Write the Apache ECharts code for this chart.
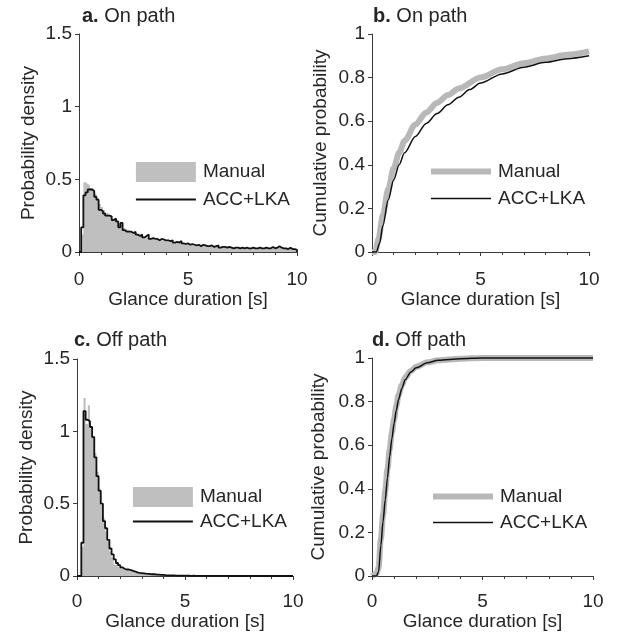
<!DOCTYPE html>
<html>
<head>
<meta charset="utf-8">
<script src="https://cdn.jsdelivr.net/npm/echarts@6/dist/echarts.min.js"></script>
<style>
html,body{margin:0;padding:0;background:#fff;}
#chart{width:623px;height:636px;}
</style>
</head>
<body>
<div id="chart"></div>
<script>
// ---------- DATA ----------
// Histogram bins: width 0.1 s, starting at 0 s (100 bins up to 10 s)
const BIN_START = 0;
const BIN_WIDTH = 0.1;

// a. On path – probability density
const onPathManual = [
  0, 0.12, 0.48, 0.47, 0.46, 0.44, 0.43, 0.40, 0.37, 0.33,
  0.31, 0.29, 0.27, 0.26, 0.245, 0.23, 0.22, 0.20, 0.19, 0.18,
  0.165, 0.155, 0.15, 0.14, 0.135, 0.13, 0.12, 0.115, 0.11, 0.105,
  0.10, 0.10, 0.095, 0.09, 0.085, 0.085, 0.08, 0.08, 0.075, 0.075,
  0.07, 0.07, 0.065, 0.065, 0.06, 0.065, 0.06, 0.055, 0.055, 0.05,
  0.05, 0.05, 0.045, 0.045, 0.045, 0.04, 0.045, 0.04, 0.04, 0.04,
  0.035, 0.035, 0.04, 0.035, 0.03, 0.035, 0.03, 0.03, 0.03, 0.03,
  0.025, 0.03, 0.025, 0.025, 0.03, 0.025, 0.025, 0.025, 0.025, 0.025,
  0.025, 0.02, 0.025, 0.025, 0.02, 0.025, 0.02, 0.025, 0.025, 0.02,
  0.025, 0.03, 0.025, 0.02, 0.02, 0.02, 0.025, 0.02, 0.02, 0.015
];
const onPathAcc = [
  0, 0.17, 0.39, 0.41, 0.43, 0.43, 0.42, 0.38, 0.36, 0.29,
  0.28, 0.265, 0.25, 0.25, 0.245, 0.22, 0.23, 0.21, 0.17, 0.20,
  0.15, 0.14, 0.14, 0.14, 0.13, 0.14, 0.12, 0.11, 0.12, 0.10,
  0.11, 0.12, 0.09, 0.095, 0.09, 0.09, 0.08, 0.09, 0.085, 0.08,
  0.08, 0.075, 0.08, 0.065, 0.07, 0.065, 0.075, 0.06, 0.055, 0.06,
  0.05, 0.055, 0.05, 0.045, 0.05, 0.04, 0.05, 0.045, 0.04, 0.04,
  0.045, 0.035, 0.04, 0.045, 0.03, 0.035, 0.035, 0.03, 0.035, 0.03,
  0.025, 0.03, 0.03, 0.025, 0.03, 0.025, 0.03, 0.025, 0.025, 0.03,
  0.025, 0.025, 0.03, 0.025, 0.025, 0.03, 0.025, 0.025, 0.035, 0.025,
  0.03, 0.04, 0.03, 0.025, 0.025, 0.02, 0.03, 0.02, 0.02, 0.015
];

// c. Off path – probability density
const offPathManual = [
  0, 0, 0.20, 1.23, 1.05, 1.18, 1.02, 0.97, 0.85, 0.72,
  0.60, 0.49, 0.40, 0.31, 0.24, 0.17, 0.13, 0.08, 0.08, 0.06,
  0.05, 0.045, 0.04, 0.04, 0.035, 0.03, 0.025, 0.022, 0.02, 0.018,
  0.016, 0.014, 0.013, 0.012, 0.01, 0.01, 0.009, 0.008, 0.007, 0.006,
  0.005, 0.005, 0.004, 0.004, 0.003, 0.003, 0.003, 0.002, 0.002, 0.002,
  0.002, 0.001, 0.001, 0.001, 0.001, 0.001, 0.001, 0.001, 0.001, 0.001,
  0.001, 0.001, 0.001, 0.001, 0.001, 0, 0.001, 0, 0.001, 0,
  0, 0, 0.001, 0, 0, 0, 0, 0.001, 0, 0,
  0, 0, 0, 0, 0, 0, 0, 0, 0, 0,
  0, 0, 0, 0, 0, 0, 0, 0, 0, 0
];
const offPathAcc = [
  0, 0, 0.23, 1.14, 1.08, 1.07, 1.03, 0.96, 0.82, 0.69,
  0.59, 0.50, 0.38, 0.33, 0.25, 0.19, 0.15, 0.115, 0.09, 0.075,
  0.06, 0.05, 0.045, 0.045, 0.04, 0.035, 0.03, 0.025, 0.022, 0.02,
  0.018, 0.016, 0.015, 0.013, 0.012, 0.012, 0.01, 0.009, 0.008, 0.008,
  0.006, 0.005, 0.005, 0.004, 0.004, 0.003, 0.003, 0.003, 0.002, 0.002,
  0.002, 0.002, 0.001, 0.002, 0.001, 0.001, 0.001, 0.001, 0.001, 0.001,
  0.001, 0.001, 0.001, 0.001, 0.001, 0.001, 0.001, 0.001, 0.001, 0,
  0.001, 0, 0, 0.001, 0, 0, 0, 0, 0.001, 0,
  0, 0, 0, 0, 0, 0, 0, 0, 0, 0,
  0, 0, 0, 0, 0, 0, 0, 0, 0, 0
];

// b. On path – cumulative probability
const onCdfManualT = [0, 0.15, 0.3, 0.5, 0.75, 1.0, 1.25, 1.5, 2.0, 2.5, 3.0, 3.5, 4.0, 5.0, 6.0, 7.0, 8.0, 9.0, 10];
const onCdfManualP = [0, 0, 0.06, 0.17, 0.29, 0.385, 0.455, 0.51, 0.585, 0.64, 0.685, 0.72, 0.75, 0.80, 0.838, 0.866, 0.888, 0.905, 0.92];
const onCdfAccT = [0, 0.2, 0.35, 0.5, 0.75, 1.0, 1.25, 1.5, 2.0, 2.5, 3.0, 3.5, 4.0, 4.5, 5.0, 6.0, 7.0, 8.0, 9.0, 10];
const onCdfAccP = [0, 0, 0.04, 0.12, 0.24, 0.33, 0.40, 0.455, 0.53, 0.59, 0.635, 0.675, 0.71, 0.745, 0.775, 0.817, 0.848, 0.870, 0.887, 0.90];

// d. Off path – cumulative probability
const offCdfManualT = [0, 0.2, 0.3, 0.4, 0.5, 0.6, 0.7, 0.8, 0.9, 1.0, 1.1, 1.2, 1.35, 1.5, 1.75, 2.0, 2.5, 3.0, 4.0, 5.0, 10];
const offCdfManualP = [0, 0.01, 0.04, 0.17, 0.28, 0.39, 0.49, 0.58, 0.66, 0.72, 0.78, 0.83, 0.875, 0.91, 0.94, 0.96, 0.98, 0.99, 0.997, 1.0, 1.0];
const offCdfAccT = [0, 0.2, 0.3, 0.4, 0.5, 0.6, 0.7, 0.8, 0.9, 1.0, 1.1, 1.2, 1.35, 1.5, 1.75, 2.0, 2.5, 3.0, 4.0, 5.0, 10];
const offCdfAccP = [0, 0, 0.02, 0.14, 0.25, 0.35, 0.45, 0.55, 0.63, 0.70, 0.76, 0.81, 0.86, 0.90, 0.935, 0.955, 0.978, 0.99, 0.997, 1.0, 1.0];

// Labels
const panelTitles = [['a.', 'On path'], ['b.', 'On path'], ['c.', 'Off path'], ['d.', 'Off path']];
const xName = 'Glance duration [s]';
const yNames = ['Probability density', 'Cumulative probability', 'Probability density', 'Cumulative probability'];
const seriesNames = ['Manual', 'ACC+LKA'];

// ---------- STYLE ----------
const FONT = '"Liberation Sans", Arial, Helvetica, sans-serif';
const TXT = '#262626';
const AX = '#3a3a3a';
const GRAY = '#bfbfbf';
const FS = 19;

function stepPoints(vals) {
  const pts = vals.map((v, i) => [+(BIN_START + i * BIN_WIDTH).toFixed(3), v]);
  pts.push([+(BIN_START + vals.length * BIN_WIDTH).toFixed(3), 0]);
  return pts;
}
function zipPts(t, p) { return t.map((x, i) => [x, p[i]]); }

const grids = [
  { left: 79, top: 34, width: 218, height: 218 },
  { left: 372, top: 34, width: 217, height: 218 },
  { left: 77, top: 359, width: 216, height: 217 },
  { left: 372, top: 358, width: 221, height: 218 }
];
const yMax = [1.5, 1, 1.5, 1];
const yInt = [0.5, 0.2, 0.5, 0.2];
const yNameGap = [41, 42, 41, 44];
const xLabelMargin = [18, 18, 16, 16];
const xNameGap = [37, 37, 33, 33];

const xAxes = grids.map((g, i) => ({
  gridIndex: i, type: 'value', min: 0, max: 10, interval: 5,
  axisLine: { show: true, lineStyle: { color: AX, width: 1 } },
  axisTick: { show: true, length: 4, lineStyle: { color: AX, width: 1 } },
  minorTick: { show: true, splitNumber: 5, length: 3, lineStyle: { color: AX, width: 1 } },
  splitLine: { show: false },
  axisLabel: { fontSize: FS, color: TXT, fontFamily: FONT, margin: xLabelMargin[i] },
  name: xName, nameLocation: 'middle', nameGap: xNameGap[i],
  nameTextStyle: { fontSize: FS, color: TXT, fontFamily: FONT }
}));
const yAxes = grids.map((g, i) => ({
  gridIndex: i, type: 'value', min: 0, max: yMax[i], interval: yInt[i],
  axisLine: { show: true, lineStyle: { color: AX, width: 1 } },
  axisTick: { show: true, length: 4, lineStyle: { color: AX, width: 1 } },
  splitLine: { show: false },
  axisLabel: { fontSize: FS, color: TXT, fontFamily: FONT, margin: 7 },
  name: yNames[i], nameLocation: 'middle', nameGap: yNameGap[i],
  nameTextStyle: { fontSize: FS, color: TXT, fontFamily: FONT }
}));

const titlePos = [[82, 6], [373, 6], [74, 330], [372, 330]];
const titles = panelTitles.map((t, i) => ({
  left: titlePos[i][0], top: titlePos[i][1], padding: 0,
  text: '{b|' + t[0] + '} ' + t[1],
  textStyle: {
    fontSize: 20, fontWeight: 'normal', color: TXT, fontFamily: FONT,
    rich: { b: { fontSize: 20, fontWeight: 'bold', color: TXT, fontFamily: FONT } }
  }
}));

function nm(base, i) { return base + '|' + i; }

const series = [];
// Histograms (panels 0 and 2)
[[onPathManual, onPathAcc, 0], [offPathManual, offPathAcc, 2]].forEach(([man, acc, gi]) => {
  series.push({
    name: nm(seriesNames[0], gi), type: 'line', xAxisIndex: gi, yAxisIndex: gi,
    data: stepPoints(man), step: 'end', symbol: 'none', silent: true,
    lineStyle: { width: 0, color: GRAY }, itemStyle: { color: GRAY },
    areaStyle: { color: GRAY, opacity: 1 }, z: 2
  });
  series.push({
    name: nm(seriesNames[1], gi), type: 'line', xAxisIndex: gi, yAxisIndex: gi,
    data: stepPoints(acc), step: 'end', symbol: 'none', silent: true,
    lineStyle: { width: 1.8, color: '#111' }, itemStyle: { color: '#111' }, z: 3
  });
});
// CDFs (panels 1 and 3)
[[onCdfManualT, onCdfManualP, onCdfAccT, onCdfAccP, 1], [offCdfManualT, offCdfManualP, offCdfAccT, offCdfAccP, 3]].forEach(([mt, mp, at, ap, gi]) => {
  series.push({
    name: nm(seriesNames[0], gi), type: 'line', xAxisIndex: gi, yAxisIndex: gi,
    data: zipPts(mt, mp), smooth: 0.3, smoothMonotone: 'x', symbol: 'none', silent: true, clip: false,
    lineStyle: { width: 6, color: '#b8b8b8' }, itemStyle: { color: '#b8b8b8' }, z: 2
  });
  series.push({
    name: nm(seriesNames[1], gi), type: 'line', xAxisIndex: gi, yAxisIndex: gi,
    data: zipPts(at, ap), smooth: 0.3, smoothMonotone: 'x', symbol: 'none', silent: true, clip: false,
    lineStyle: { width: 1.5, color: '#111' }, itemStyle: { color: '#111' }, z: 3
  });
});

const HIDE = { color: 'rgba(0,0,0,0)', borderColor: 'rgba(0,0,0,0)', borderWidth: 0 };
const legendPos = [[135, 162, 8], [428, 162, 8], [132, 487, 5], [430, 487, 7]];
const legends = legendPos.map((p, gi) => ({
  left: p[0], top: p[1], itemGap: p[2], padding: 0, orient: 'vertical',
  itemWidth: 60, itemHeight: 20, selectedMode: false,
  formatter: (n) => n.split('|')[0],
  textStyle: { fontSize: FS, color: TXT, fontFamily: FONT, padding: [0, 0, 0, 2] },
  data: (gi === 0 || gi === 2)
    ? [{ name: nm(seriesNames[0], gi), icon: 'rect', itemStyle: { color: GRAY } },
       { name: nm(seriesNames[1], gi), itemStyle: HIDE, lineStyle: { color: '#111', width: 1.8 } }]
    : [{ name: nm(seriesNames[0], gi), itemStyle: HIDE, lineStyle: { color: '#b8b8b8', width: 6 } },
       { name: nm(seriesNames[1], gi), itemStyle: HIDE, lineStyle: { color: '#111', width: 1.5 } }]
}));

const chart = echarts.init(document.getElementById('chart'), null, { renderer: 'canvas' });
chart.setOption({
  animation: false,
  backgroundColor: '#fff',
  textStyle: { fontFamily: FONT },
  title: titles,
  legend: legends,
  grid: grids,
  xAxis: xAxes,
  yAxis: yAxes,
  series: series
});
</script>
</body>
</html>
